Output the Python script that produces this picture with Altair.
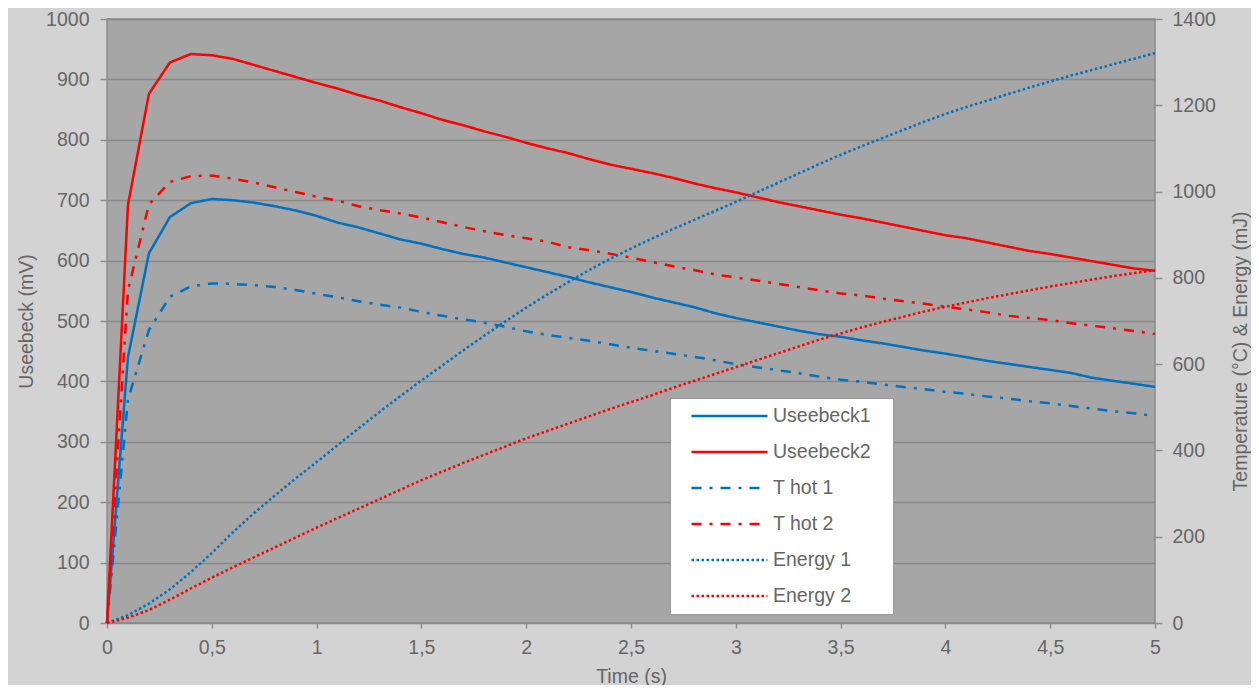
import altair as alt
import pandas as pd

# ---- data ----
time_s = [0.0, 0.1, 0.2, 0.3, 0.4, 0.5, 0.6, 0.7, 0.8, 0.9,
          1.0, 1.1, 1.2, 1.3, 1.4, 1.5, 1.6, 1.7, 1.8, 1.9,
          2.0, 2.1, 2.2, 2.3, 2.4, 2.5, 2.6, 2.7, 2.8, 2.9,
          3.0, 3.1, 3.2, 3.3, 3.4, 3.5, 3.6, 3.7, 3.8, 3.9,
          4.0, 4.1, 4.2, 4.3, 4.4, 4.5, 4.6, 4.7, 4.8, 4.9, 5.0]

useebeck1 = [0, 440, 612, 672, 695, 702, 700, 696, 690, 683,
             674, 663, 655, 645, 635, 628, 619, 611, 605, 597,
             589, 581, 573, 564, 556, 548, 539, 531, 523, 513,
             505, 498, 491, 484, 478, 474, 468, 463, 457, 451,
             446, 440, 434, 429, 424, 419, 414, 406, 401, 396, 391]

useebeck2 = [0, 692, 876, 928, 942, 940, 934, 924, 914, 904,
             894, 885, 874, 865, 854, 844, 833, 824, 814, 805,
             795, 786, 778, 768, 759, 752, 745, 737, 728, 720,
             713, 705, 697, 690, 683, 676, 670, 663, 656, 649,
             642, 637, 630, 623, 616, 611, 605, 599, 593, 587, 583]

t_hot1 = [0, 518, 679, 756, 780, 787, 786, 783, 779, 772,
          763, 755, 746, 738, 731, 721, 712, 704, 696, 687,
          676, 668, 661, 654, 646, 638, 631, 624, 617, 609,
          600, 593, 586, 579, 571, 564, 559, 553, 547, 542,
          536, 531, 525, 520, 514, 509, 503, 497, 491, 486, 480]

t_hot2 = [0, 771, 970, 1022, 1036, 1037, 1030, 1021, 1010, 999,
          988, 979, 966, 957, 949, 940, 929, 918, 908, 899,
          892, 884, 871, 864, 856, 847, 837, 827, 818, 808,
          801, 794, 786, 779, 771, 764, 759, 752, 746, 740,
          733, 727, 720, 712, 707, 702, 695, 689, 683, 677, 670]

energy1 = [0, 18, 45, 78, 118, 162, 210, 254, 295, 335,
           373, 412, 451, 489, 526, 562, 597, 632, 666, 699,
           731, 761, 790, 818, 844, 868, 891, 913, 934, 955,
           976, 998, 1020, 1042, 1064, 1085, 1105, 1124, 1143, 1162,
           1180, 1196, 1211, 1226, 1241, 1255, 1269, 1282, 1295, 1308, 1321]

energy2 = [0, 12, 30, 54, 80, 105, 129, 152, 175, 198,
           221, 243, 265, 287, 309, 331, 351, 371, 390, 409,
           428, 445, 462, 479, 496, 512, 528, 545, 561, 577,
           593, 609, 625, 641, 657, 671, 685, 698, 710, 722,
           733, 743, 753, 762, 771, 780, 788, 796, 804, 811, 818]

series_names = ["Useebeck1", "Useebeck2", "T hot 1", "T hot 2", "Energy 1", "Energy 2"]
series_colors = ["#0070C0", "#FF0000", "#0070C0", "#FF0000", "#0070C0", "#FF0000"]
series_dashes = [[1, 0], [1, 0], [10, 8, 3, 8], [10, 8, 3, 8], [2.5, 2.5], [2.5, 2.5]]

x_ticks = [0, 0.5, 1, 1.5, 2, 2.5, 3, 3.5, 4, 4.5, 5]
left_ticks = [0, 100, 200, 300, 400, 500, 600, 700, 800, 900, 1000]
right_ticks = [0, 200, 400, 600, 800, 1000, 1200, 1400]

# ---- tables ----
def long(names, arrays):
    rows = []
    for n, arr in zip(names, arrays):
        for t, v in zip(time_s, arr):
            rows.append({"time": t, "value": v, "series": n})
    return pd.DataFrame(rows)

left_df = long(["Useebeck1", "Useebeck2"], [useebeck1, useebeck2])
right_df = long(["T hot 1", "T hot 2", "Energy 1", "Energy 2"], [t_hot1, t_hot2, energy1, energy2])

FONT = "Liberation Sans"
TXT = "#666666"
FS = 19.5

legend = alt.Legend(
    title=None, orient="none", legendX=563, legendY=379,
    symbolType="M-2,0H2", symbolSize=1444, symbolStrokeWidth=2.5,
    clipHeight=36, rowPadding=0, padding=0,
    symbolOffset=39, labelOffset=23,
    fillColor="white", strokeColor="#9a9a9a",
    labelFont=FONT, labelFontSize=FS, labelColor=TXT,
    labelExpr="datum.label + '\u00a0\u00a0\u00a0\u00a0\u200b'",
)

color = alt.Color("series:N", scale=alt.Scale(domain=series_names, range=series_colors),
                  sort=series_names, legend=legend)
dash = alt.StrokeDash("series:N", scale=alt.Scale(domain=series_names, range=series_dashes),
                      sort=series_names, legend=legend)

x_enc = alt.X("time:Q", scale=alt.Scale(domain=[0, 5], nice=False, zero=False),
              axis=alt.Axis(values=x_ticks, title="Time (s)", grid=False,
                            labelExpr="replace(toString(datum.value), '.', ',')",
                            labelFlush=False, tickSize=5, labelPadding=10,
                            titleX=524, titleY=59, titleAlign="center",
                            titleBaseline="alphabetic"))

left = alt.Chart(left_df).mark_line(strokeWidth=2.5).encode(
    x=x_enc,
    y=alt.Y("value:Q", scale=alt.Scale(domain=[0, 1000], nice=False),
            axis=alt.Axis(values=left_ticks, format="d", title="Useebeck (mV)", grid=True,
                          orient="left", tickSize=7, labelPadding=11,
                          titleAngle=270, titleX=-75, titleY=302,
                          titleAlign="center", titleBaseline="alphabetic")),
    color=color,
    strokeDash=dash,
)

right = alt.Chart(right_df).mark_line(strokeWidth=2.5).encode(
    x=x_enc,
    y=alt.Y("value:Q", scale=alt.Scale(domain=[0, 1400], nice=False),
            axis=alt.Axis(values=right_ticks, format="d", title="Temperature (°C) & Energy (mJ)",
                          grid=False, orient="right", tickSize=7, labelPadding=10,
                          titleAngle=270, titleX=91, titleY=332,
                          titleAlign="center", titleBaseline="alphabetic")),
    color=color,
    strokeDash=dash,
)

chart = alt.layer(left, right).resolve_scale(y="independent").properties(
    width=1048, height=604,
    autosize=alt.AutoSizeParams(type="none"),
    padding={"left": 99, "top": 11, "right": 96, "bottom": 62},
).configure(
    background="#d3d3d3",
).configure_view(
    fill="#a6a6a6", stroke="#8c8c8c", strokeWidth=1.5,
).configure_axis(
    labelFont=FONT, titleFont=FONT, labelFontSize=FS, titleFontSize=FS,
    labelColor=TXT, titleColor=TXT, titleFontWeight="normal",
    domain=False, tickColor="#8c8c8c", tickWidth=1.5,
    gridColor="#898989", gridWidth=1.5,
)

chart.save("out.html", embed_options={"renderer": "svg", "actions": False})
